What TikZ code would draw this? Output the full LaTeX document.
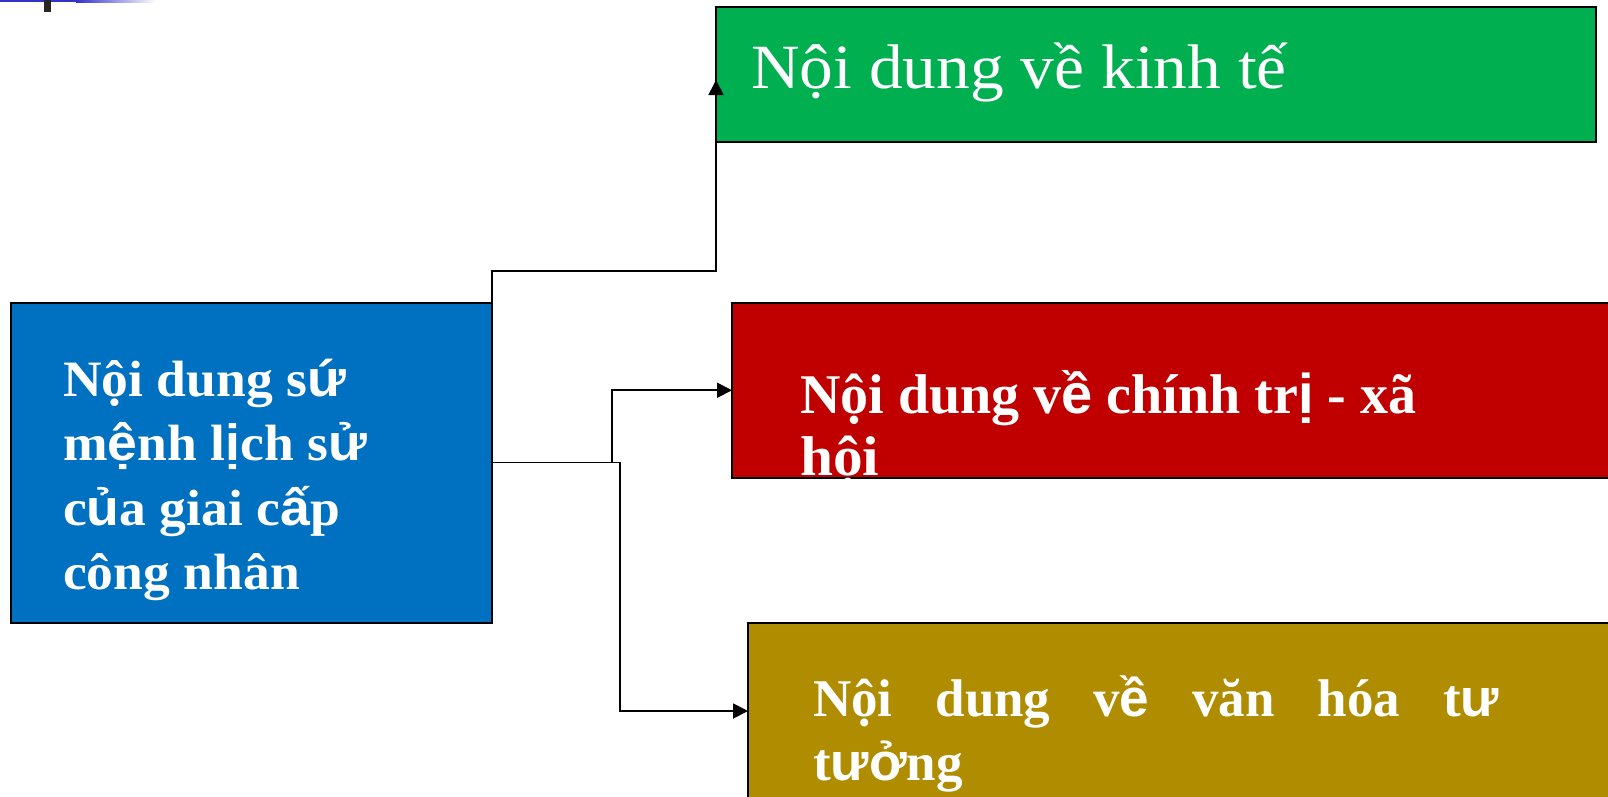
\documentclass[tikz,border=0pt]{standalone}
\usepackage{fontspec}
\setmainfont{Liberation Serif}
\newfontfamily\accsans{Liberation Sans}
\usetikzlibrary{arrows.meta}
\definecolor{boxblue}{HTML}{0070C0}
\definecolor{boxgreen}{HTML}{00B050}
\definecolor{boxred}{HTML}{C00000}
\definecolor{boxgold}{HTML}{AF8C00}
\definecolor{barblue}{HTML}{3333CC}
% accented letters that fall back to a bold sans face
\newcommand{\sa}[1]{{\accsans\bfseries #1}}
% slightly widened line of text
\newcommand{\wide}[2]{\scalebox{#1}[1]{#2}}
\begin{document}
\begin{tikzpicture}[x=1pt,y=-1pt,
  panel/.style={draw=black,line width=2pt,anchor=north west,inner sep=0pt,outer sep=0pt},
  txt/.style={anchor=base west,inner sep=0pt,text=white},
  link/.style={draw=black,line width=1.8pt,-{Triangle[length=15pt,width=15pt]}},
  wire/.style={draw=black,line width=1.8pt}]
\useasboundingbox (0,0) rectangle (1608,796);
\clip (0,0) rectangle (1608,796);
\fill[white] (0,0) rectangle (1608,796);

% small header mark in the top-left corner
\fill[barblue] (0,0) rectangle (76,2);
\shade[left color=barblue,right color=white] (76,0) rectangle (156,2.5);
\fill[black!85] (44,0) rectangle (50.5,11.5);

% panels
\node[panel,fill=boxblue,minimum width=481pt,minimum height=320pt] (src) at (11,302.5) {};
\node[panel,fill=boxgreen,minimum width=880pt,minimum height=135pt] (eco) at (716,7) {};
\node[panel,fill=boxred,minimum width=890pt,minimum height=175.5pt] (pol) at (732,302.5) {};
\node[panel,fill=boxgold,minimum width=880pt,minimum height=220pt] (cul) at (748,622.5) {};

% source text
\begin{scope}[every node/.append style={txt,font=\fontsize{51}{64}\bfseries\selectfont}]
\node (s1) at (63,396) {\wide{1.05}{Nội dung s\sa{ứ}}};
\node (s2) at (63,460) {\wide{1.05}{m\sa{ệ}nh l\sa{ị}ch s\sa{ử}}};
\node (s3) at (63,525) {\wide{1.05}{c\sa{ủ}a giai c\sa{ấ}p}};
\node (s4) at (63,589) {\wide{1.05}{công nhân}};
\end{scope}

% economic
\node[txt,font=\fontsize{63}{76}\selectfont] (e1) at (751,88) {\wide{1.07}{Nội dung về kinh tế}};

% political-social
\begin{scope}[every node/.append style={txt,font=\fontsize{56}{68}\bfseries\selectfont}]
\node (p1) at (800,413) {Nội dung v\sa{ề} chính tr\sa{ị} - xã};
\node (p2) at (800,475) {\wide{1.06}{hội}};
\end{scope}

% cultural-ideological (justified first line)
\begin{scope}[every node/.append style={txt,font=\fontsize{53}{64}\bfseries\selectfont}]
\node (c1) at (813,716.5) {\makebox[686pt][s]{Nội dung v\sa{ề} văn hóa t\sa{ư}}};
\node (c2) at (813,780) {t\sa{ưở}ng};
\end{scope}

% connectors
\coordinate (src-out) at (src.east |- 0,462.5);
\coordinate (eco-in) at (eco.west |- 0,80);
\draw[link] (src.north east) -- (src.north east |- 0,271) -| (eco-in);
\draw[link] (src-out) -- (612,462.5) |- (pol.west);
\coordinate (cul-in) at (cul.west |- 0,711);
\draw[link] (src-out) -- (620,462.5) |- (cul-in);
\end{tikzpicture}
\end{document}
